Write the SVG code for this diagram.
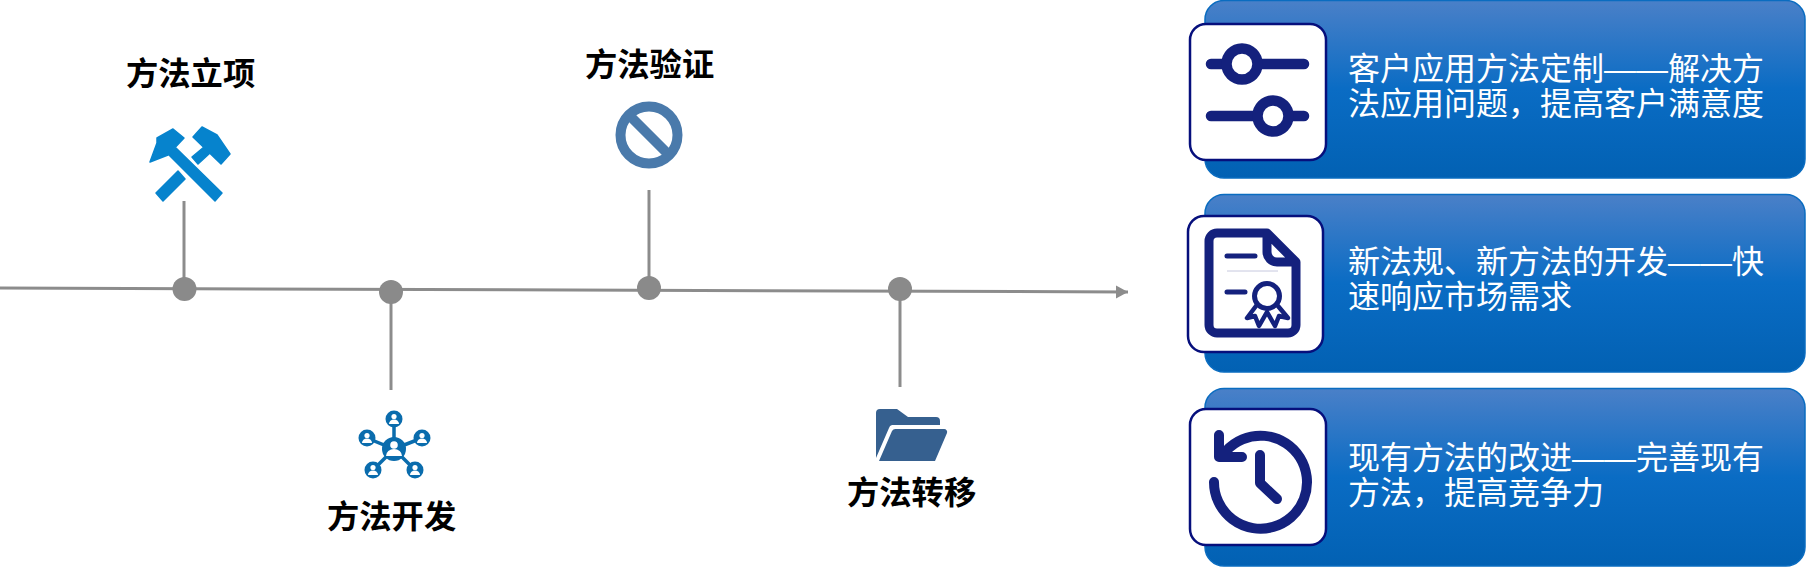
<svg xmlns="http://www.w3.org/2000/svg" width="1806" height="567" viewBox="0 0 1806 567">
<style>
.lab{font-family:"Noto Sans CJK SC","Liberation Sans",sans-serif;font-weight:700;font-size:32.300px;fill:#000}
.txt{font-family:"Noto Sans CJK SC","Liberation Sans",sans-serif;font-size:32px;fill:#fff}
.dash{font-family:"Liberation Sans",sans-serif}
.card{fill:url(#g);stroke:#0a6cc0;stroke-width:1.5}
.box{fill:#fff;stroke:#060f7c;stroke-width:2.5}
.ln{stroke:#8c8c8c;stroke-width:3;fill:none}
.dot{fill:#8a8a8a}
.ic{fill:none;stroke:#14217d;stroke-linecap:round;stroke-linejoin:round}
.h{fill:#0683cd;stroke:#0683cd;stroke-width:1.500;stroke-linejoin:round}
.n{fill:#0a6cad}
.w{fill:#fff}
</style>
<defs>
<linearGradient id="g" x1="0" y1="0" x2="0" y2="1"><stop offset="0" stop-color="#4a80c8"/><stop offset=".5" stop-color="#0a6cc4"/><stop offset="1" stop-color="#0261b3"/></linearGradient>
<marker id="a" markerUnits="userSpaceOnUse" markerWidth="14" markerHeight="14" refX="12" refY="6.5" orient="auto"><path d="M0 0L12 6.5L0 13Z" fill="#8c8c8c"/></marker>
</defs>
<g id="connectors">
<path class="ln" d="M0 288L1128 292" marker-end="url(#a)"/>
<path class="ln" d="M184 201V289"/>
<path class="ln" d="M391 292V390"/>
<path class="ln" d="M649 190V288"/>
<path class="ln" d="M900 289V387"/>
</g>
<g id="node-lixiang">
<circle class="dot" cx="184.500" cy="289" r="12"/>
<path class="h" d="M150 162L157 143V138L173 129L184 138L168 155Z"/>
<path class="h" d="M169 155L176 148L222 193L215 201Z"/>
<path class="h" d="M193 137L202 127L217 135L230 154L221 164Z"/>
<path class="h" d="M204 147L210 153L198 164L192 157Z"/>
<path class="h" d="M178 171L185 179L163 201L156 193Z"/>
<text class="lab" x="126" y="85">方法立项</text>
</g>
<g id="node-kaifa">
<circle class="dot" cx="391" cy="292" r="12"/>
<path d="M394 419V449M367 438L394 449L422 438M373 470L394 449L415 470" stroke="#0a6cad" stroke-width="3.500" fill="none"/>
<circle class="n" cx="394" cy="449" r="12"/><circle class="n" cx="394" cy="419" r="8.500"/><circle class="n" cx="367" cy="438" r="8.500"/><circle class="n" cx="422" cy="438" r="8.500"/><circle class="n" cx="373" cy="470" r="8.500"/><circle class="n" cx="415" cy="470" r="8.500"/>
<g class="w">
<circle cx="394" cy="445" r="3.800"/><path d="M386 456a8 7 0 0 1 16 0Z"/>
<circle cx="394" cy="416.500" r="2.600"/><path d="M389 424a5 4.500 0 0 1 10 0Z"/>
<circle cx="367" cy="435.500" r="2.600"/><path d="M362 443a5 4.500 0 0 1 10 0Z"/>
<circle cx="422" cy="435.500" r="2.600"/><path d="M417 443a5 4.500 0 0 1 10 0Z"/>
<circle cx="373" cy="467.500" r="2.600"/><path d="M368 475a5 4.500 0 0 1 10 0Z"/>
<circle cx="415" cy="467.500" r="2.600"/><path d="M410 475a5 4.500 0 0 1 10 0Z"/>
</g>
<text class="lab" x="327" y="528">方法开发</text>
</g>
<g id="node-yanzheng">
<circle class="dot" cx="649" cy="288" r="12"/>
<circle cx="649" cy="135" r="28.500" fill="none" stroke="#4a7aab" stroke-width="10"/>
<path d="M629 115L669 155" stroke="#4a7aab" stroke-width="10" fill="none"/>
<text class="lab" x="585" y="76">方法验证</text>
</g>
<g id="node-zhuanyi">
<circle class="dot" cx="900" cy="289" r="12"/>
<path fill="#36608f" d="M876 413a4 4 0 0 1 4-4H897L908 417H936a4 4 0 0 1 4 4V425H892a4 4 0 0 0-3 3L876 458Z"/>
<path fill="#36608f" d="M896 429H944a3 3 0 0 1 3 4L935 461H879L892 431a4 4 0 0 1 4-2Z"/>
<text class="lab" x="847" y="504">方法转移</text>
</g>
<g id="card-1">
<rect class="card" x="1205" y="0.500" width="600" height="177.500" rx="19"/>
<rect class="box" x="1190" y="24" width="136" height="136" rx="16"/>
<path class="ic" stroke-width="10.500" d="M1211 64H1304M1211 116H1304"/>
<circle cx="1242" cy="64" r="15.500" fill="#fff" stroke="#14217d" stroke-width="10.500"/>
<circle cx="1273" cy="116" r="15.500" fill="#fff" stroke="#14217d" stroke-width="10.500"/>
<text class="txt" x="1348" y="80">客户应用方法定制<tspan class="dash">——</tspan>解决方</text>
<text class="txt" x="1348" y="115">法应用问题，提高客户满意度</text>
</g>
<g id="card-2">
<rect class="card" x="1205" y="194.500" width="600" height="177.500" rx="19"/>
<rect class="box" x="1188" y="216" width="135" height="136" rx="16"/>
<path class="ic" stroke-width="9" d="M1267 233H1217a8 8 0 0 0-8 8V325a8 8 0 0 0 8 8H1288a8 8 0 0 0 8-8V262ZM1267 233V252a10 10 0 0 0 10 10H1296"/>
<path class="ic" stroke-width="5" d="M1227 256H1255M1227 292H1245"/>
<path d="M1227 271H1278" stroke="#c6c8de" stroke-width="1" fill="none"/>
<circle cx="1267" cy="296" r="12.500" fill="none" stroke="#14217d" stroke-width="5"/>
<path class="ic" stroke-width="4.500" d="M1256 306L1247 318L1255 316L1259 326L1267 312L1275 326L1279 316L1288 318L1278 306"/>
<text class="txt" x="1348" y="273">新法规、新方法的开发<tspan class="dash">——</tspan>快</text>
<text class="txt" x="1348" y="308">速响应市场需求</text>
</g>
<g id="card-3">
<rect class="card" x="1205" y="388.500" width="600" height="177.500" rx="19"/>
<rect class="box" x="1190" y="409" width="136" height="136" rx="16"/>
<path class="ic" stroke-width="10" d="M1214 482A46.500 46.500 0 1 0 1226 451"/>
<path class="ic" stroke-width="10" d="M1219 435V457H1242"/>
<path class="ic" stroke-width="10" d="M1260 455V483L1277 499"/>
<text class="txt" x="1348" y="469">现有方法的改进<tspan class="dash">——</tspan>完善现有</text>
<text class="txt" x="1348" y="504">方法，提高竞争力</text>
</g>
</svg>
